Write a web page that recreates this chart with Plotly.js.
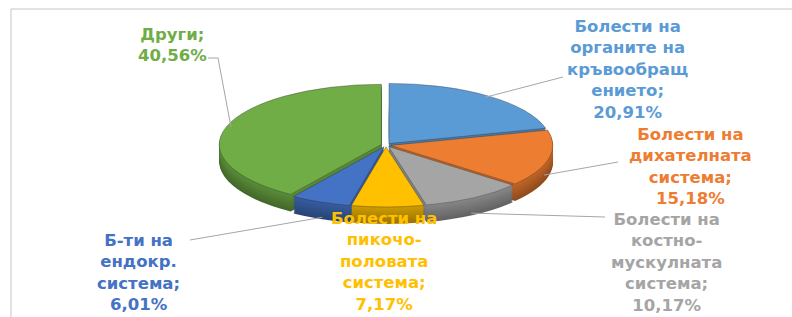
<!DOCTYPE html>
<html><head><meta charset="utf-8">
<script src="https://cdn.plot.ly/plotly-3.0.1.min.js"></script>
<style>html,body{margin:0;padding:0;background:#fff}#chart{width:792px;height:317px}</style>
</head><body><div id="chart"></div>
<script>
// ---- data ----
const categories = [
  'Болести на<br>органите на<br>кръвообращ<br>ението',
  'Болести на<br>дихателната<br>система',
  'Болести на<br>костно-<br>мускулната<br>система',
  'Болести на<br>пикочо-<br>половата<br>система',
  'Б-ти на<br>ендокр.<br>система',
  'Други'
];
const values = [20.91, 15.18, 10.17, 7.17, 6.01, 40.56];

// ---- style / layout ----
const topColors  = ['#5B9BD5','#ED7D31','#A5A5A5','#FFC000','#4472C4','#70AD47'];
const textColors = ['#5B9BD5','#ED7D31','#A5A5A5','#FFC000','#4472C4','#70AD47'];
// label text centres (pixels)
const labelPos = [[627,70],[690,166],[666,262],[384,261],[138,272],[172,45]];
// leader line outer ends (pixels), null = no leader; elbow optional
const leaderEnd = [[563,77],[618,162],[605,217],null,[190,240],[208,58]];
const leaderElbow = [null,null,null,null,null,[218,58]];

const W=792, H=317;
const cx=386, cyT=145, rx=167, ry=62, depth=17;
const dom=300, cyDom=158.5, pull=0.03;
const sx = rx/(dom/2), sy = ry/(dom/2);

function shade(hex, f){
  const n=parseInt(hex.slice(1),16);
  const r=Math.round(((n>>16)&255)*f), g=Math.round(((n>>8)&255)*f), b=Math.round((n&255)*f);
  return 'rgb('+r+','+g+','+b+')';
}
const px = x => x/W, py = y => 1-y/H;

const domain = {x:[(cx-dom/2)/W,(cx+dom/2)/W], y:[1-(cyDom+dom/2)/H, 1-(cyDom-dom/2)/H]};
const offsets = [];
for(let d=depth; d>=1; d-=1) offsets.push(d);
const traces = [];
offsets.forEach(d=>{
  const f = 0.6 + 0.22*(1-d/depth);
  traces.push({type:'pie', values:values, labels:categories, sort:false, direction:'clockwise',
    rotation:0, pull:pull, domain:domain, textinfo:'none', hoverinfo:'skip', showlegend:false,
    marker:{colors:topColors.map(c=>shade(c,f)), line:{width:0}}});
});
traces.push({type:'pie', values:values, labels:categories, sort:false, direction:'clockwise',
  rotation:0, pull:pull, domain:domain, textinfo:'none', hoverinfo:'skip', showlegend:false,
  marker:{colors:topColors, line:{width:0.8, color:'rgba(40,40,40,0.55)'}}});

function fmt(v){ return v.toFixed(2).replace('.',',')+'%'; }

const annotations = [], shapes = [
  {type:'line', xref:'paper', yref:'paper', x0:px(11), x1:1.01, y0:py(9), y1:py(9), line:{color:'#d9d9d9', width:1.5}},
  {type:'line', xref:'paper', yref:'paper', x0:px(11), x1:px(11), y0:py(9), y1:-0.01, line:{color:'#d9d9d9', width:1.5}}
];
let cum=0;
values.forEach((v,i)=>{
  const th = 2*Math.PI*(cum + v/2)/100; cum += v;
  const c=Math.cos(th), s=Math.sin(th);
  const tipX = cx + 0.97*rx*s;
  const tipY = cyT - 0.97*ry*c + (c<0 ? depth : 0);
  if(leaderEnd[i]){
    let p = 'M '+px(leaderEnd[i][0])+' '+py(leaderEnd[i][1]);
    if(leaderElbow[i]) p += ' L '+px(leaderElbow[i][0])+' '+py(leaderElbow[i][1]);
    p += ' L '+px(tipX)+' '+py(tipY);
    shapes.push({type:'path', xref:'paper', yref:'paper', path:p, line:{color:'#a6a6a6', width:1}});
  }
  annotations.push({xref:'paper', yref:'paper', x:px(labelPos[i][0]), y:py(labelPos[i][1]),
    text: categories[i] + ';<br>' + fmt(v),
    font:{family:'DejaVu Sans, sans-serif', size:16.5, color:textColors[i], weight:700},
    showarrow:false, xanchor:'center', yanchor:'middle', align:'center'});
});

const layout = {width:W, height:H, margin:{l:0,r:0,t:0,b:0}, paper_bgcolor:'#fff', plot_bgcolor:'#fff',
  showlegend:false, annotations:annotations, shapes:shapes};

Plotly.newPlot('chart', traces, layout, {staticPlot:true}).then(gd=>{
  const groups = gd.querySelectorAll('.pielayer .trace');
  groups.forEach((g,i)=>{
    const d = i < offsets.length ? offsets[i] : 0;
    const tx = cx - sx*cx, ty = cyT + d - sy*cyDom;
    g.setAttribute('transform','matrix('+sx+',0,0,'+sy+','+tx+','+ty+')');
  });
});
</script></body></html>
